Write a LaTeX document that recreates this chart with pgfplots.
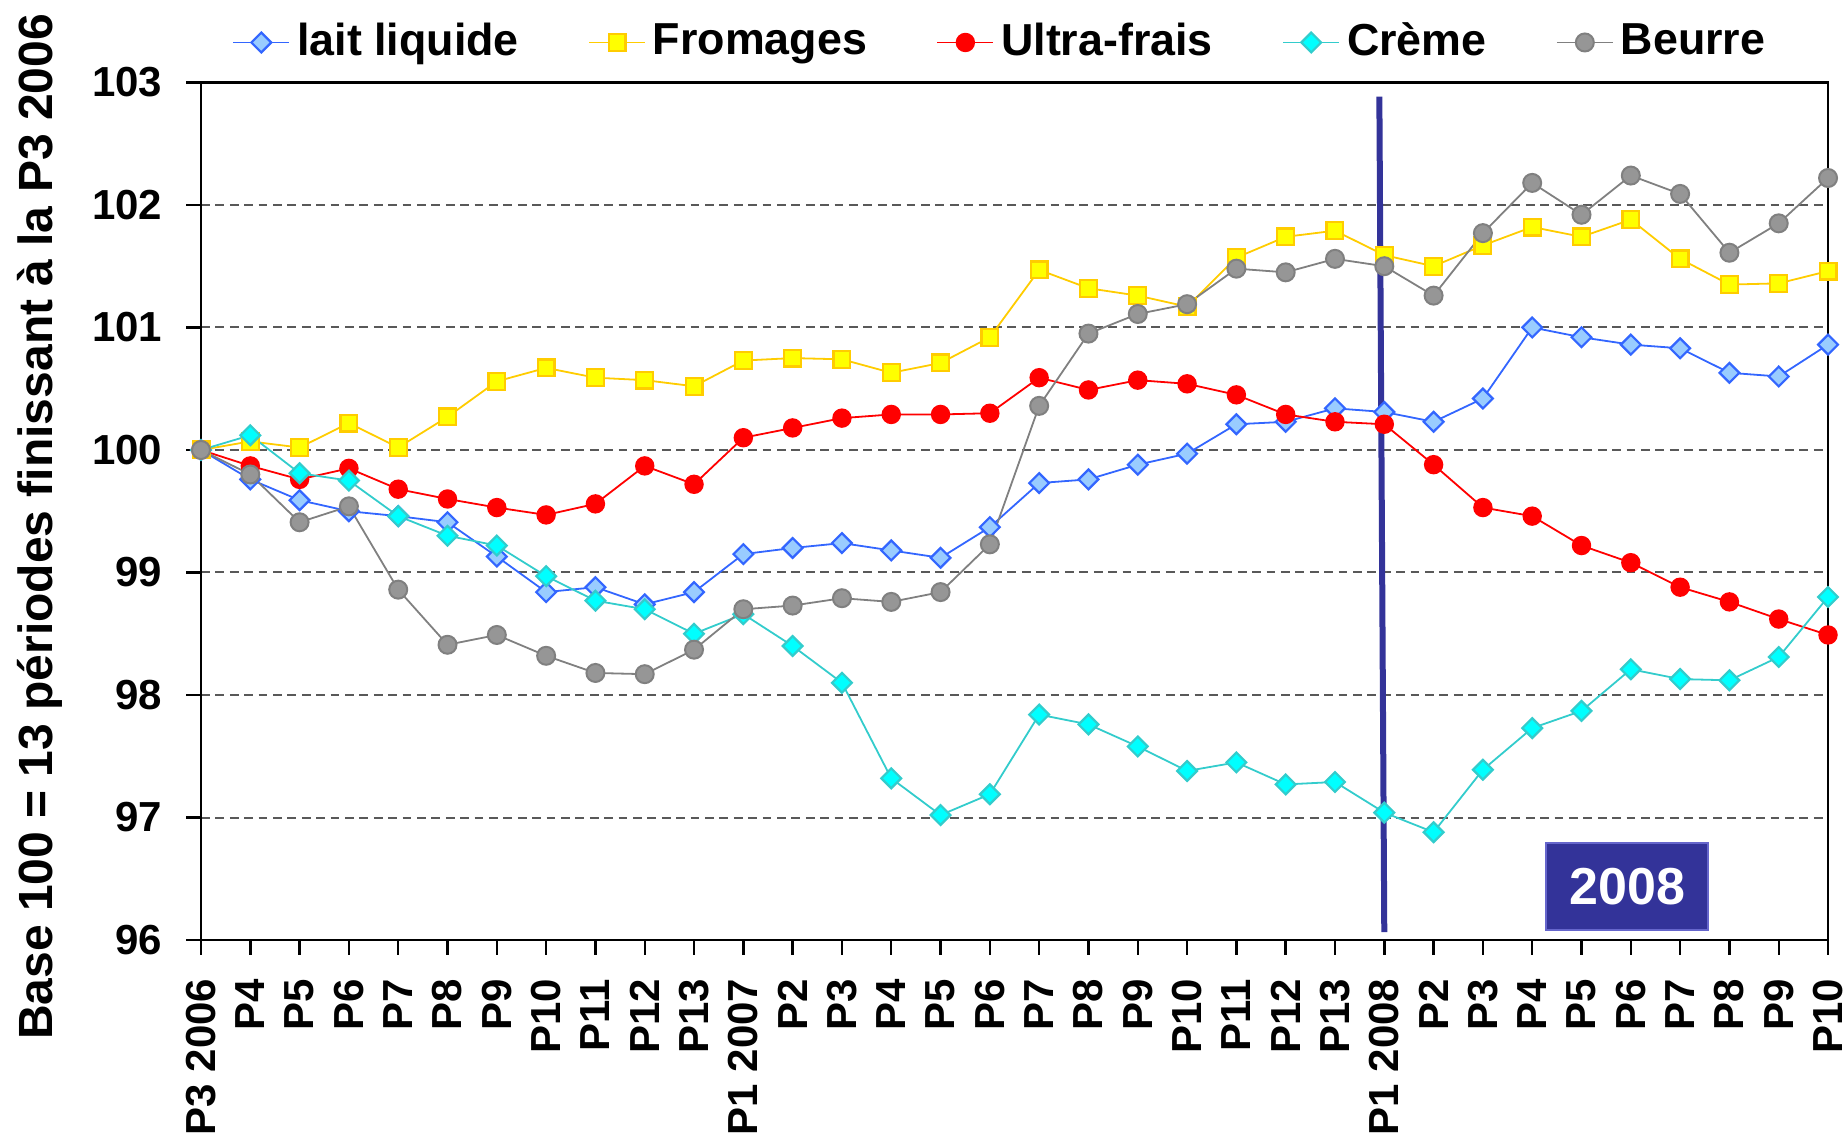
\documentclass[border=0pt]{standalone}
\usepackage{pgfplots}
\pgfplotsset{compat=1.18}
\usepackage{fontspec}
\setmainfont{Liberation Sans}
\definecolor{laitL}{HTML}{3366FF}
\definecolor{laitF}{HTML}{99CCFF}
\definecolor{fromL}{HTML}{FFCC00}
\definecolor{fromF}{HTML}{FFFF00}
\definecolor{ultra}{HTML}{FF0000}
\definecolor{cremL}{HTML}{33CCCC}
\definecolor{cremF}{HTML}{00FFFF}
\definecolor{beuL}{HTML}{808080}
\definecolor{beuF}{HTML}{969696}
\definecolor{navy}{HTML}{333399}
\definecolor{navyB}{HTML}{6666CC}
\begin{document}
\begin{tikzpicture}
\path[use as bounding box] (-50.25pt,-49.75pt) rectangle (411.5pt,235pt);
\begin{axis}[
  scale only axis, width=406.75pt, height=214.4pt,
  xmin=0, xmax=33, ymin=96, ymax=103,
  xtick={0,...,33},
  xticklabels={P3 2006,P4,P5,P6,P7,P8,P9,P10,P11,P12,P13,P1 2007,P2,P3,P4,P5,P6,P7,P8,P9,P10,P11,P12,P13,P1 2008,P2,P3,P4,P5,P6,P7,P8,P9,P10},
  ytick={96,...,103},
  /pgf/number format/assume math mode=true,
  tick align=outside, xtick pos=left, ytick pos=left,
  major tick length=3.7pt,
  tick style={black, line width=0.6pt},
  axis line style={black, line width=0.6pt},
  ymajorgrids,
  major grid style={black!65, line width=0.5pt, dash pattern=on 2.2pt off 1.4pt},
  xticklabel style={rotate=90, anchor=east, inner sep=0pt, font=\fontsize{10.5}{12}\selectfont\bfseries},
  yticklabel style={inner sep=0pt, font=\fontsize{10.5}{12}\selectfont\bfseries},
  xticklabel shift=5.8pt, yticklabel shift=5.8pt,
  ylabel={Base 100 = 13 périodes finissant à la P3 2006},
  every axis y label/.style={at={(axis description cs:-0.1131,0.4816)}, rotate=90, anchor=north, inner sep=0pt, font=\fontsize{12}{14}\selectfont\bfseries},
  legend columns=5,
  legend style={at={(axis description cs:0.4925,1.0466)}, anchor=center, draw=none, fill=none,
    font=\fontsize{11.2}{13}\selectfont\bfseries, column sep=0pt,
    nodes={inner sep=1.75pt},
    /tikz/every even column/.append style={column sep=15.6pt}},
  legend image code/.code={\draw[mark repeat=2,mark phase=2,#1] plot coordinates {(0pt,0pt) (7pt,0pt) (14pt,0pt)};},
  every axis plot/.append style={line width=0.45pt},
]
\addplot[color=laitL, mark=square*, mark size=1.75pt, mark options={rotate=45, fill=laitF, draw=laitL, line width=0.55pt}] coordinates {
(0,100) (1,99.76) (2,99.59) (3,99.50) (4,99.46) (5,99.41) (6,99.13) (7,98.84) (8,98.88) (9,98.74) (10,98.84)
(11,99.15) (12,99.20) (13,99.24) (14,99.18) (15,99.12) (16,99.37) (17,99.73) (18,99.76) (19,99.88) (20,99.97)
(21,100.21) (22,100.23) (23,100.34) (24,100.31) (25,100.23) (26,100.42) (27,101.00) (28,100.92) (29,100.86)
(30,100.83) (31,100.63) (32,100.60) (33,100.86)};
\addlegendentry{lait liquide}
\addplot[color=fromL, mark=square*, mark size=2.1pt, mark options={fill=fromF, draw=fromL, line width=0.55pt}] coordinates {
(0,100) (1,100.07) (2,100.02) (3,100.22) (4,100.02) (5,100.27) (6,100.56) (7,100.67) (8,100.59) (9,100.57) (10,100.52)
(11,100.73) (12,100.75) (13,100.74) (14,100.63) (15,100.71) (16,100.92) (17,101.47) (18,101.32) (19,101.26) (20,101.17)
(21,101.57) (22,101.74) (23,101.79) (24,101.59) (25,101.50) (26,101.67) (27,101.82) (28,101.74) (29,101.88)
(30,101.56) (31,101.35) (32,101.36) (33,101.46)};
\addlegendentry{Fromages}
\addplot[color=ultra, mark=*, mark size=2.2pt, mark options={fill=ultra, draw=ultra}] coordinates {
(0,100) (1,99.87) (2,99.76) (3,99.85) (4,99.68) (5,99.60) (6,99.53) (7,99.47) (8,99.56) (9,99.87) (10,99.72)
(11,100.10) (12,100.18) (13,100.26) (14,100.29) (15,100.29) (16,100.30) (17,100.59) (18,100.49) (19,100.57) (20,100.54)
(21,100.45) (22,100.29) (23,100.23) (24,100.21) (25,99.88) (26,99.53) (27,99.46) (28,99.22) (29,99.08)
(30,98.88) (31,98.76) (32,98.62) (33,98.49)};
\addlegendentry{Ultra-frais}
\addplot[color=cremL, mark=square*, mark size=1.75pt, mark options={rotate=45, fill=cremF, draw=cremL, line width=0.55pt}] coordinates {
(0,100) (1,100.12) (2,99.81) (3,99.75) (4,99.46) (5,99.30) (6,99.22) (7,98.97) (8,98.77) (9,98.70) (10,98.50)
(11,98.66) (12,98.40) (13,98.10) (14,97.32) (15,97.02) (16,97.19) (17,97.84) (18,97.76) (19,97.58) (20,97.38)
(21,97.45) (22,97.27) (23,97.29) (24,97.04) (25,96.88) (26,97.39) (27,97.73) (28,97.87) (29,98.21)
(30,98.13) (31,98.12) (32,98.31) (33,98.80)};
\addlegendentry{Crème}
\addplot[color=beuL, mark=*, mark size=2.25pt, mark options={fill=beuF, draw=beuL, line width=0.5pt}] coordinates {
(0,100) (1,99.80) (2,99.41) (3,99.54) (4,98.86) (5,98.41) (6,98.49) (7,98.32) (8,98.18) (9,98.17) (10,98.37)
(11,98.70) (12,98.73) (13,98.79) (14,98.76) (15,98.84) (16,99.23) (17,100.36) (18,100.95) (19,101.11) (20,101.19)
(21,101.48) (22,101.45) (23,101.56) (24,101.50) (25,101.26) (26,101.77) (27,102.18) (28,101.92) (29,102.24)
(30,102.09) (31,101.61) (32,101.85) (33,102.22)};
\addlegendentry{Beurre}
\addplot[forget plot, color=navy, line width=1.5pt] coordinates {(23.9,102.885) (24.0,96.065)};
\node[fill=navy, draw=navyB, line width=0.5pt, minimum width=40.5pt, minimum height=21.7pt, inner sep=0pt,
  text=white, font=\fontsize{13}{15}\selectfont\bfseries] at (axis cs:28.925,96.435) {2008};
\end{axis}
\end{tikzpicture}
\end{document}
